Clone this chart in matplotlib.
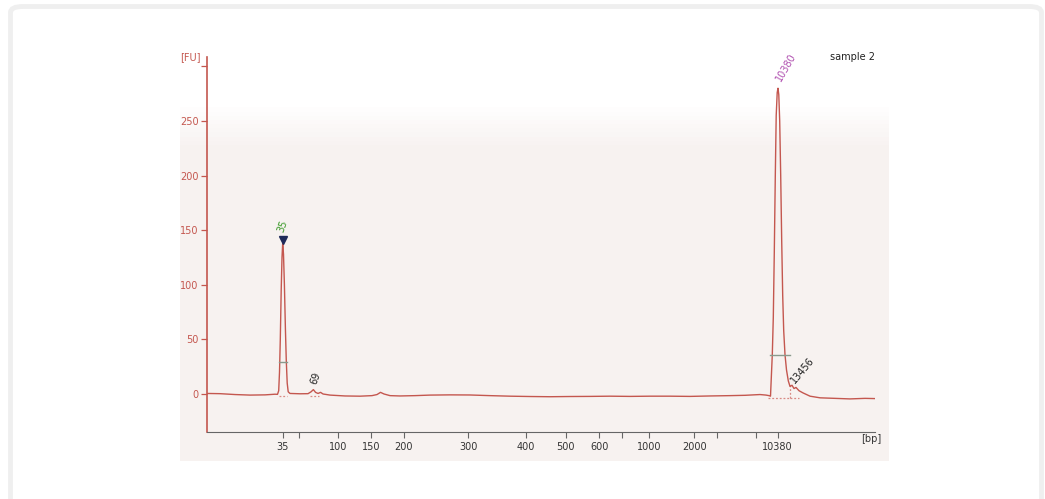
import numpy as np
import matplotlib.pyplot as plt
from matplotlib.patches import FancyBboxPatch

# migration time (s) of the ladder sizes on the bp axis
ladder_bp = ["35", "100", "150", "200", "300", "400", "500", "600", "1000", "2000", "10380"]
ladder_t = [49.10, 55.65, 59.64, 63.59, 71.29, 78.20, 82.96, 86.98, 92.97, 98.36, 108.35]
minor_t = [50.98, 89.66, 101.11, 105.71]

# electropherogram trace: time (s), fluorescence (FU)
trace_t = [40.00, 41.56, 43.35, 45.15, 46.95, 48.14, 48.443, 48.587, 48.683, 48.778,
           48.886, 48.982, 49.066, 49.162, 49.270, 49.389, 49.497, 49.605, 49.725, 49.94,
           51.14, 52.10, 52.46, 52.74, 53.00, 53.30, 53.60, 53.90, 54.73, 56.53,
           58.32, 59.76, 60.36, 60.78, 61.20, 61.92, 63.11, 64.91, 66.71, 69.10,
           71.50, 73.89, 76.29, 78.68, 81.08, 83.47, 85.87, 88.26, 90.66, 93.05,
           95.45, 97.84, 100.24, 102.63, 104.43, 106.23, 106.95, 107.31, 107.485, 107.581,
           107.700, 107.820, 107.940, 108.060, 108.168, 108.288, 108.383, 108.479, 108.587, 108.707,
           108.827, 108.947, 109.066, 109.222, 109.402, 109.617, 109.82, 110.06, 110.30, 110.54,
           110.90, 111.38, 112.22, 113.42, 115.22, 117.00, 118.80, 120.00]
trace_fu = [0.5, 0.3, -0.5, -1.0, -0.8, -0.2, -0.3, 3, 20, 50,
            95, 125, 138, 128, 100, 60, 30, 10, 2, 0.5,
            0.2, 0.3, 2, 4, 1.5, 0.5, 1.5, 0.0, -1.0, -1.8,
            -2.0, -1.5, -0.5, 1.5, 0, -1.5, -1.8, -1.5, -1.0, -0.8,
            -0.9, -1.5, -2.0, -2.3, -2.5, -2.3, -2.2, -2.0, -2.2, -2.0,
            -2.0, -2.2, -1.8, -1.5, -1.2, -0.5, -1.0, -1.5, -2, 15,
            36, 70, 130, 200, 255, 276, 280, 274, 250, 200,
            140, 90, 58, 36, 22, 12, 7, 8, 5, 6,
            3, 1, -2, -3.5, -4, -4.5, -4.0, -4.2]

# called peaks: label, time, label anchor FU, colour, rotation
peak_lbl = ["35", "69", "10380", "13456"]
peak_t = [49.10, 53.05, 108.95, 110.65]
peak_fu = [147, 8, 284.8, 8.2]
peak_col = ["#3c9a2a", "#222222", "#b050b0", "#222222"]
peak_rot = [70, 70, 60, 50]

# peak width bars (t start, t end, FU) and integration baselines
width_bars = [(48.59, 49.58, 29.6), (107.40, 109.88, 36.0)]
base_lines = [(48.62, 49.60, -1.8), (52.30, 53.40, -1.5),
              (107.20, 109.82, -3.8), (109.82, 110.95, -3.8)]

red = "#c4574f"
grey = "#666666"

fig = plt.figure(figsize=(10.45, 4.99), dpi=100)
W, H = 1045, 499

# outer rounded frame
frame = FancyBboxPatch((10.5 / W, -0.2), 1031 / W, 1.2 - 6.5 / H,
                       boxstyle="round,pad=0,rounding_size=0.012",
                       transform=fig.transFigure, fill=False,
                       edgecolor="#efefef", linewidth=3.5)
fig.patches.append(frame)

# panel with soft pink gradient
bg = fig.add_axes([180 / W, (H - 461) / H, (889 - 180) / W, (461 - 45) / H])
grad = np.ones((100, 2, 3))
top = np.array([1.0, 1.0, 1.0])
bot = np.array([0.971, 0.950, 0.945])
for i in range(100):
    f = min(max((i - 14) / 10.0, 0.0), 1.0)
    grad[i] = top * (1 - f) + bot * f
bg.imshow(grad, aspect="auto", extent=[0, 1, 0, 1], origin="upper")
bg.axis("off")

ax = fig.add_axes([207 / W, (H - 432) / H, (875 - 207) / W, (432 - 57) / H])
ax.set_facecolor("none")
ax.set_xlim(40, 120)
ax.set_ylim(-34.8, 308.6)

ax.plot(trace_t, trace_fu, color=red, lw=1.0, zorder=3)

for t0, t1, v in width_bars:
    ax.plot([t0, t1], [v, v], color="#8a9a8c", lw=1.0, zorder=4)
for t0, t1, v in base_lines:
    ax.plot([t0, t1], [v, v], color="#d88a84", lw=0.9, ls=(0, (1.5, 1.5)), zorder=2)
ax.plot([109.82, 109.82], [-3.8, 9], color="#d88a84", lw=0.9, ls=(0, (1.5, 1.5)), zorder=2)

# lower marker triangle
ax.plot([49.08], [141], marker="v", color="#1f2a5a", ms=6, zorder=5)

for lbl, t, v, c, r in zip(peak_lbl, peak_t, peak_fu, peak_col, peak_rot):
    anchored = lbl in ("10380", "13456")
    ax.text(t, v, lbl, color=c, rotation=r, fontsize=7,
            ha="left" if anchored else "center", va="bottom",
            rotation_mode="anchor" if anchored else "default")

ax.spines["top"].set_visible(False)
ax.spines["right"].set_visible(False)
ax.spines["left"].set_color(red)
ax.spines["left"].set_linewidth(1.2)
ax.spines["bottom"].set_color(grey)

ax.set_yticks([0, 50, 100, 150, 200, 250, 300])
ax.set_yticklabels(["0", "50", "100", "150", "200", "250", ""])
ax.tick_params(axis="y", colors=red, labelsize=7, length=4, width=0.9, pad=2)

ax.set_xticks(ladder_t)
ax.set_xticklabels(ladder_bp)
ax.set_xticks(minor_t, minor=True)
ax.tick_params(axis="x", which="both", colors=grey, labelcolor="#333333",
               labelsize=7, length=4, width=0.8, pad=3)

fig.text(190 / W, (H - 57) / H, "[FU]", color=red, fontsize=7, ha="center", va="center")
fig.text(871 / W, (H - 439) / H, "[bp]", color="#333333", fontsize=7, ha="center", va="center")
fig.text(853 / W, (H - 57) / H, "sample 2", color="#222222", fontsize=7, ha="center", va="center")

fig.savefig("out.png", dpi=100)
